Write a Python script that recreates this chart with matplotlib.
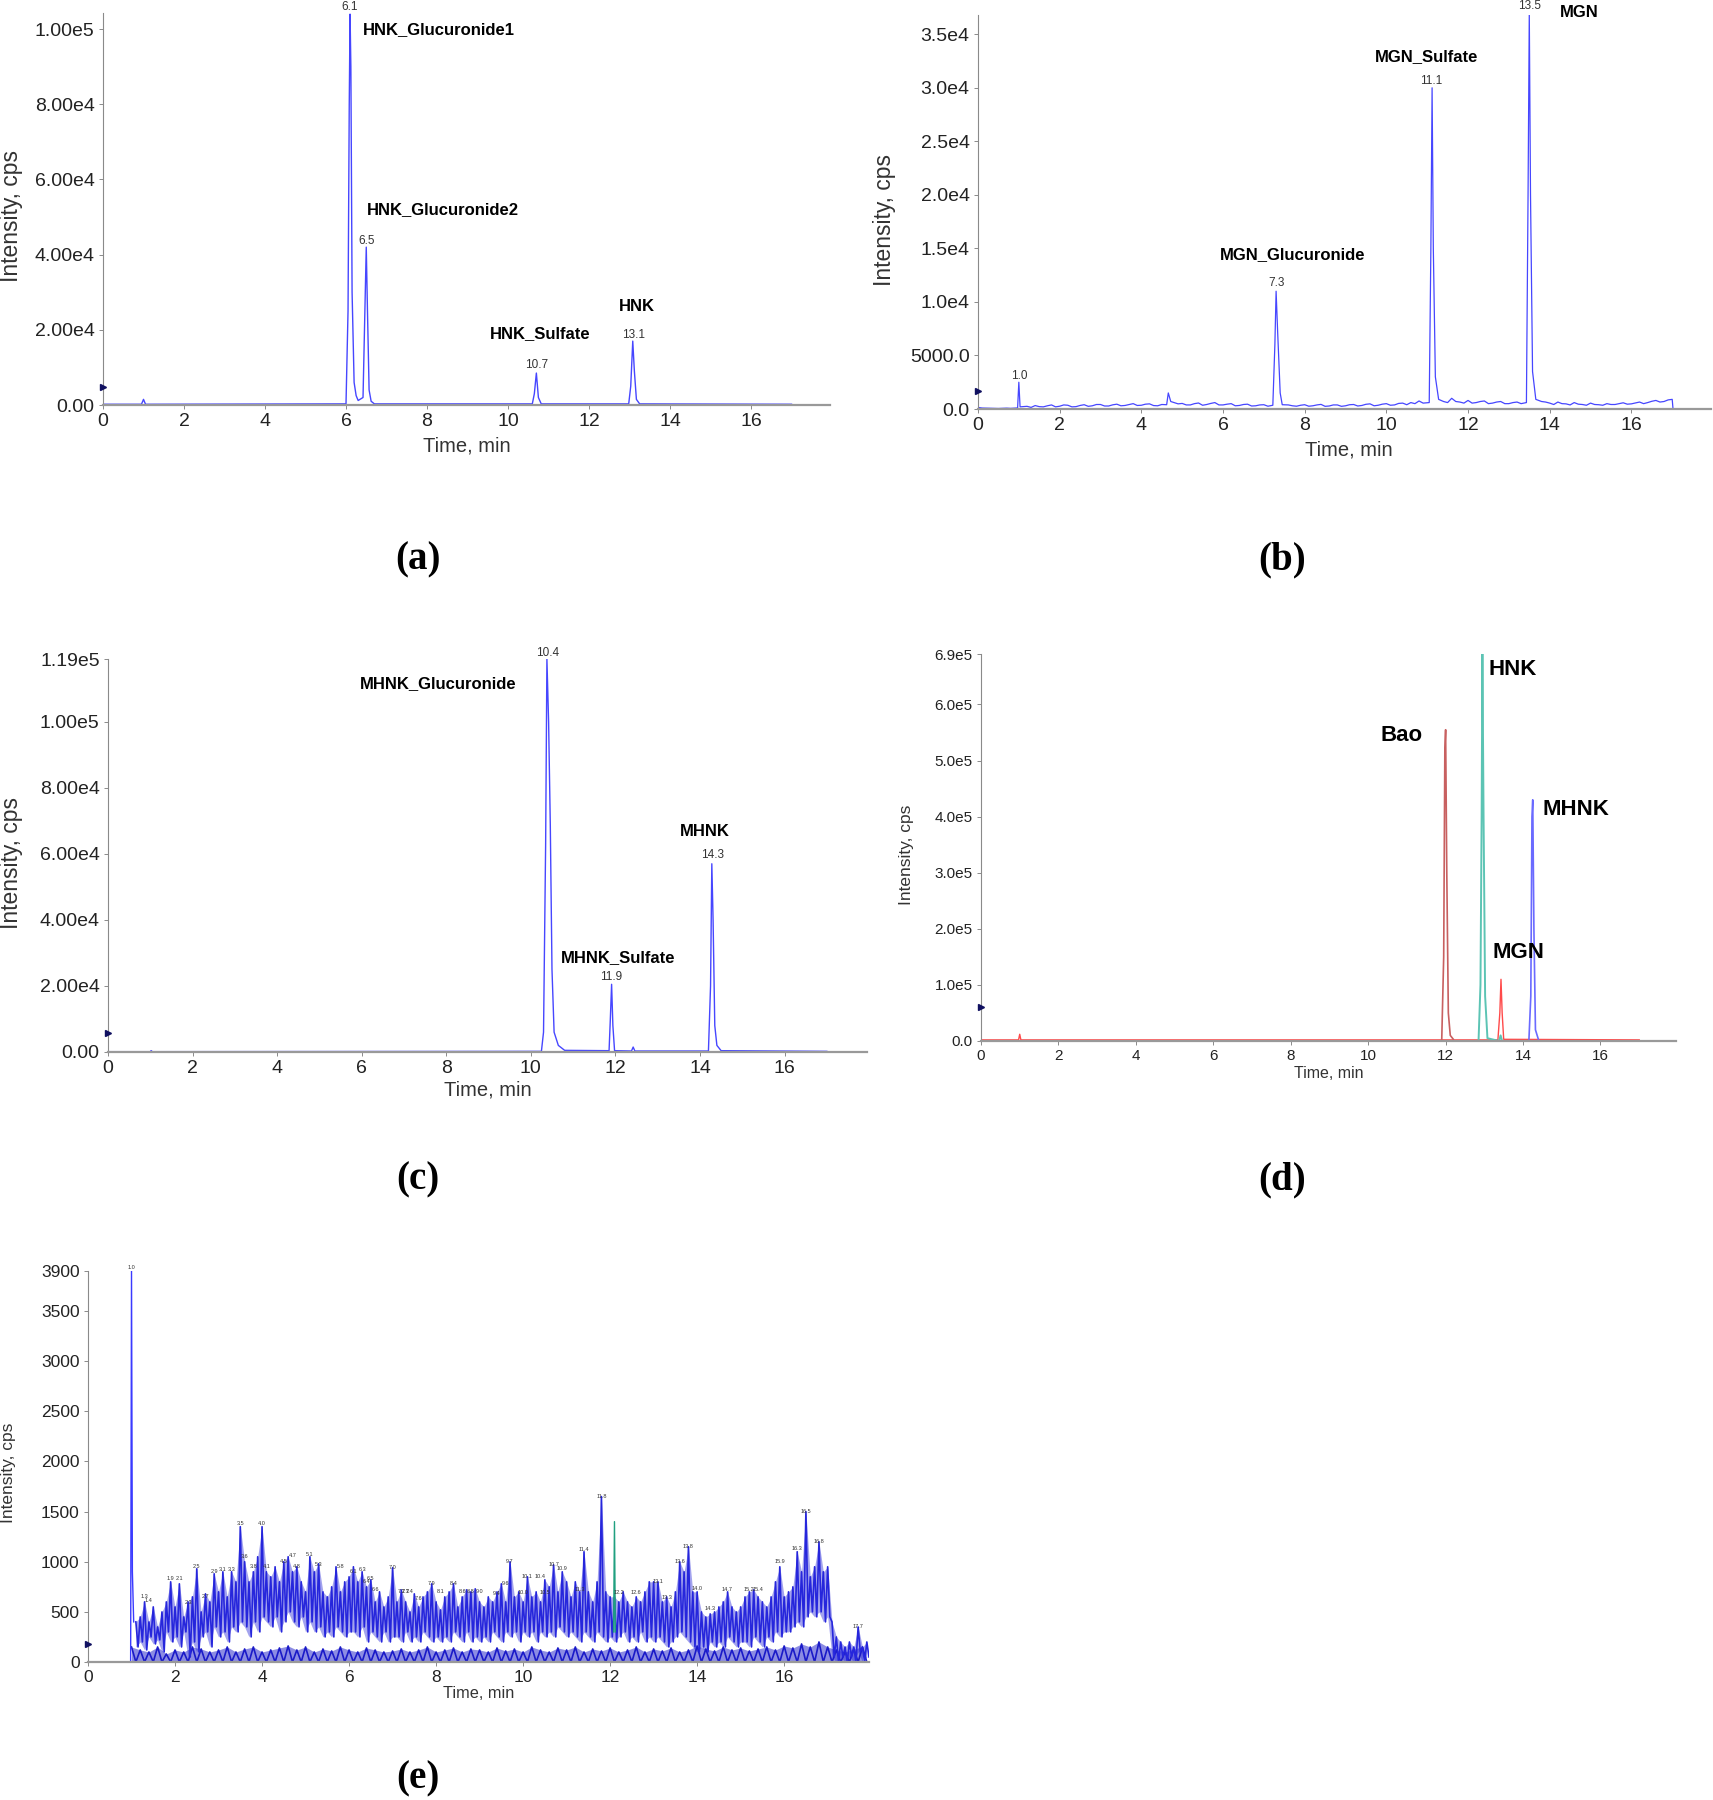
import numpy as np
import matplotlib.pyplot as plt
from matplotlib import font_manager

names = {f.name for f in font_manager.fontManager.ttflist}
NARROW = 'Liberation Sans Narrow' if 'Liberation Sans Narrow' in names else 'Liberation Sans'
SANS = 'Liberation Sans'

# ---------------- data ----------------
x_ticks = [0, 2, 4, 6, 8, 10, 12, 14, 16]

# (a) HNK metabolites
t_a = [0, 0.95, 1.0, 1.05, 6.0, 6.05, 6.08, 6.1, 6.12, 6.15, 6.2, 6.25, 6.3, 6.42, 6.46, 6.5,
       6.53, 6.57, 6.62, 6.7, 10.6, 10.65, 10.7, 10.75, 10.82, 12.98, 13.03, 13.08, 13.12,
       13.17, 13.25, 17.0]
y_a = [200, 200, 1500, 200, 300, 25000, 80000, 104000, 90000, 30000, 6000, 2500, 1200, 2000,
       22000, 42000, 25000, 4000, 1000, 300, 300, 3000, 8500, 2000, 300, 300, 5000, 17000,
       9000, 1500, 300, 200]
yt_a = [0, 20000, 40000, 60000, 80000, 100000]
ytl_a = ['0.00', '2.00e4', '4.00e4', '6.00e4', '8.00e4', '1.00e5']
rt_a = [6.1, 6.5, 10.7, 13.1]
rt_y_a = [106000, 43600, 10700, 18600]
names_a = ['HNK_Glucuronide1', 'HNK_Glucuronide2', 'HNK_Sulfate', 'HNK']
name_x_a = [6.41, 6.52, 9.56, 12.74]
name_y_a = [100000, 52000, 19000, 26200]

# (b) MGN metabolites: baseline noise every 0.1 min plus peaks
b_noise = [150, 90, 80, 60, 70, 50, 60, 80, 60, 70,
           100, 180, 250, 150, 320, 220, 200, 300, 380, 200,
           260, 380, 350, 200, 220, 330, 400, 250, 300, 420,
           420, 280, 280, 390, 450, 300, 330, 420, 500, 330,
           350, 450, 480, 320, 300, 420, 600, 900, 700, 480,
           520, 380, 380, 500, 560, 350, 420, 520, 600, 380,
           380, 450, 500, 300, 330, 420, 450, 280, 300, 380,
           400, 260, 350, 300, 380, 260, 380, 300, 260, 350,
           400, 260, 300, 380, 430, 250, 280, 380, 380, 250,
           300, 400, 420, 280, 330, 440, 480, 300, 350, 450,
           500, 350, 380, 520, 550, 400, 600, 500, 750, 550,
           650, 600, 650, 500, 700, 600, 1000, 700, 650, 550,
           800, 550, 600, 700, 750, 500, 550, 650, 700, 500,
           500, 600, 650, 500, 600, 700, 700, 600, 700, 650,
           550, 420, 650, 500, 480, 380, 600, 450, 420, 350,
           550, 420, 400, 350, 500, 420, 420, 500, 580, 450,
           480, 560, 650, 500, 600, 720, 800, 650, 700, 850,
           900]
b_peak_t = [0.97, 1.0, 1.03, 4.62, 4.66, 4.72, 7.22, 7.27, 7.3, 7.34, 7.4, 7.45,
            11.05, 11.09, 11.12, 11.15, 11.2, 11.28, 13.43, 13.47, 13.5, 13.53, 13.58, 13.66,
            17.02, 17.9]
b_peak_y = [100, 2500, 200, 400, 1500, 700, 350, 6000, 11000, 7000, 1500, 400,
            600, 15000, 30000, 15000, 3000, 900, 600, 20000, 37000, 20000, 3500, 900,
            0, 0]
yt_b = [0, 5000, 10000, 15000, 20000, 25000, 30000, 35000]
ytl_b = ['0.0', '5000.0', '1.0e4', '1.5e4', '2.0e4', '2.5e4', '3.0e4', '3.5e4']
rt_b = [1.0, 7.3, 11.1, 13.5]
rt_y_b = [3100, 11800, 30600, 37600]
names_b = ['MGN_Glucuronide', 'MGN_Sulfate', 'MGN']
name_x_b = [5.92, 9.72, 14.25]
name_y_b = [14400, 32900, 37000]

# (c) MHNK metabolites
t_c = [0, 1.0, 1.02, 1.05, 10.25, 10.3, 10.35, 10.38, 10.42, 10.46, 10.5, 10.55, 10.65, 10.8,
       11.85, 11.88, 11.91, 11.94, 11.98, 12.38, 12.42, 12.46, 14.2, 14.25, 14.28, 14.31,
       14.35, 14.4, 14.5, 17.0]
y_c = [100, 100, 400, 100, 200, 6000, 63000, 119000, 100000, 69000, 25000, 6000, 2000, 500,
       400, 10000, 20500, 8000, 400, 300, 1500, 300, 300, 20000, 57000, 40000, 8000, 2000,
       400, 200]
yt_c = [0, 20000, 40000, 60000, 80000, 100000, 119000]
ytl_c = ['0.00', '2.00e4', '4.00e4', '6.00e4', '8.00e4', '1.00e5', '1.19e5']
rt_c = [10.4, 11.9, 14.3]
rt_y_c = [120700, 22600, 59500]
names_c = ['MHNK_Glucuronide', 'MHNK_Sulfate', 'MHNK']
name_x_c = [5.96, 10.72, 13.52]
name_y_c = [111700, 28500, 66800]

# (d) parent compounds, one trace per channel
t_mgn = [0, 0.97, 1.0, 1.03, 13.35, 13.4, 13.43, 13.46, 13.5, 17.0]
y_mgn = [2000, 2000, 12000, 2000, 2000, 50000, 110000, 50000, 3000, 2000]
t_bao = [11.9, 11.95, 11.98, 12.0, 12.03, 12.07, 12.12, 12.2]
y_bao = [3000, 150000, 520000, 555000, 300000, 50000, 10000, 3000]
t_hnk = [12.85, 12.9, 12.93, 12.95, 12.98, 13.02, 13.08, 13.38, 13.42, 13.46]
y_hnk = [0, 100000, 400000, 690000, 400000, 80000, 5000, 0, 10000, 0]
t_mhnk = [14.15, 14.2, 14.23, 14.25, 14.28, 14.32, 14.4]
y_mhnk = [0, 80000, 400000, 430000, 200000, 20000, 2000]
yt_d = [0, 100000, 200000, 300000, 400000, 500000, 600000, 690000]
ytl_d = ['0.0', '1.0e5', '2.0e5', '3.0e5', '4.0e5', '5.0e5', '6.0e5', '6.9e5']
names_d = ['Bao', 'HNK', 'MHNK', 'MGN']
name_x_d = [10.33, 13.12, 14.51, 13.2]
name_y_d = [545000, 663000, 412000, 158000]

# (e) blank: dense noise, upper / lower envelope every 0.1 min from 1.1 min
e_upper = [400, 450, 600, 400, 550, 350, 500, 600, 800, 550,
           780, 450, 600, 650, 930, 500, 680, 600, 880, 700,
           900, 650, 900, 800, 1350, 1000, 800, 900, 1050, 1350,
           900, 850, 950, 800, 1000, 1050, 900, 950, 800, 700,
           1050, 900, 980, 700, 650, 750, 950, 700, 800, 850,
           950, 800, 900, 750, 820, 600, 700, 550, 650, 940,
           600, 720, 600, 500, 680, 550, 650, 700, 780, 600,
           520, 650, 700, 780, 550, 650, 720, 700, 730, 600,
           550, 650, 600, 700, 780, 600, 1000, 650, 700, 600,
           850, 650, 700, 600, 820, 750, 970, 700, 900, 800,
           650, 800, 700, 1100, 700, 600, 800, 1650, 700, 650,
           650, 600, 700, 600, 550, 650, 600, 700, 800, 800,
           800, 600, 650, 550, 700, 1000, 900, 1150, 700, 700,
           500, 450, 480, 500, 550, 600, 700, 550, 500, 550,
           650, 700, 720, 650, 600, 550, 650, 800, 950, 650,
           700, 750, 1100, 900, 1500, 850, 950, 1200, 900, 950,
           400, 250, 200, 150, 200, 150, 350, 150, 200]
e_lower = [150, 200, 120, 250, 180, 220, 100, 300, 200, 250,
           150, 300, 50, 200, 100, 250, 300, 150, 350, 250,
           300, 200, 350, 300, 400, 350, 250, 400, 300, 450,
           400, 350, 450, 300, 400, 500, 400, 350, 450, 300,
           400, 300, 350, 250, 300, 250, 350, 300, 250, 300,
           300, 250, 350, 200, 300, 250, 200, 300, 200, 250,
           250, 200, 300, 200, 250, 200, 300, 250, 200, 250,
           200, 250, 200, 300, 250, 200, 300, 200, 250, 200,
           250, 200, 300, 250, 200, 300, 250, 300, 200, 300,
           250, 300, 200, 300, 250, 300, 250, 350, 300, 250,
           300, 250, 200, 300, 250, 200, 300, 250, 200, 250,
           200, 250, 300, 200, 250, 200, 300, 200, 250, 200,
           250, 200, 150, 200, 250, 300, 250, 200, 150, 100,
           150, 100, 200, 150, 200, 150, 250, 200, 150, 200,
           200, 150, 250, 200, 150, 250, 200, 300, 250, 300,
           300, 350, 400, 350, 450, 500, 450, 500, 400, 450,
           50, 0, 50, 0, 50, 0, 100, 0, 50]
# bottom channels, every 0.2 min from 1.0 min
e_low_top = [150, 120, 100, 150, 80, 120, 100, 150, 130, 100,
             120, 150, 100, 130, 150, 100, 120, 140, 160, 120,
             150, 100, 130, 110, 150, 120, 100, 140, 120, 100,
             110, 130, 100, 120, 150, 100, 120, 140, 100, 130,
             120, 100, 140, 110, 130, 100, 150, 120, 100, 140,
             120, 150, 100, 130, 110, 140, 100, 120, 150, 100,
             130, 110, 140, 100, 120, 160, 130, 110, 150, 120,
             140, 110, 130, 150, 120, 160, 140, 180, 150, 200,
             150, 120, 100, 130, 150]
t_e_spike = [0, 0.98, 1.0, 1.02, 1.05]
y_e_spike = [0, 0, 3900, 900, 400]
t_e_green = [12.08, 12.1, 12.12]
y_e_green = [300, 1400, 300]
yt_e = [0, 500, 1000, 1500, 2000, 2500, 3000, 3500, 3900]
e_lab_t = [1.0, 1.3, 1.4, 1.9, 2.1, 2.3, 2.5, 2.7, 2.9, 3.1, 3.3, 3.5, 3.6, 3.8, 4.0, 4.1,
           4.5, 4.7, 4.8, 5.1, 5.3, 5.8, 6.1, 6.3, 6.4, 6.5, 6.6, 7.0, 7.2, 7.3, 7.4, 7.6,
           7.9, 8.1, 8.4, 8.6, 8.8, 9.0, 9.4, 9.6, 9.7, 10.0, 10.1, 10.4, 10.5, 10.7, 10.9,
           11.3, 11.4, 11.8, 12.2, 12.6, 13.1, 13.3, 13.6, 13.8, 14.0, 14.3, 14.7, 15.2,
           15.4, 15.9, 16.3, 16.5, 16.8, 17.7]
e_lab_y = [3930, 650, 610, 830, 830, 590, 950, 650, 900, 920, 920, 1380, 1050, 950, 1380, 950,
           1000, 1060, 950, 1070, 970, 950, 900, 920, 800, 830, 720, 940, 700, 700, 700, 630,
           780, 700, 780, 700, 700, 700, 680, 780, 1000, 690, 850, 850, 690, 970, 930,
           720, 1120, 1650, 690, 690, 800, 640, 1000, 1150, 730, 530, 720, 720,
           720, 1000, 1130, 1500, 1200, 350]

# small software markers on the y axes
axis_mark = [4900, 1700, 5900, 61000, 183]

# ---------------- figure ----------------
W, H = 1713, 1800
fig = plt.figure(figsize=(W / 100, H / 100), dpi=100)


def box(l, t, r, b):
    return [l / W, 1 - b / H, (r - l) / W, (b - t) / H]


def fpos(x, y):
    return x / W, 1 - y / H


TICK = '#222222'
BLUE = '#4646ff'


def style(ax, ymax, yt, ytl, fs):
    ax.set_xlim(0, 17.95)
    ax.set_ylim(0, ymax)
    ax.set_xticks(x_ticks)
    ax.set_xticklabels([str(v) for v in x_ticks], fontsize=fs, family=NARROW, color=TICK)
    ax.set_yticks(yt)
    ax.set_yticklabels(ytl, fontsize=fs, family=NARROW, color=TICK)
    for s in ['top', 'right']:
        ax.spines[s].set_visible(False)
    ax.spines['left'].set_color('#8a8a8a')
    ax.spines['left'].set_linewidth(0.8)
    ax.spines['bottom'].set_color('#999999')
    ax.spines['bottom'].set_linewidth(1.6)
    ax.tick_params(length=3, width=0.7, color='#8a8a8a', pad=3)


def peak_labels(ax, xs, ys, fs=8.5):
    for x, y in zip(xs, ys):
        ax.text(x, y, f'{x:.1f}', ha='center', va='center', fontsize=fs, family=NARROW,
                color='#333333', clip_on=False)


def names_text(ax, xs, ys, labels, fs):
    for x, y, s in zip(xs, ys, labels):
        ax.text(x, y, s, ha='left', va='center', fontsize=fs, family=NARROW,
                fontweight='bold', color='black', clip_on=False)


def mark(ax, y):
    ax.plot([0], [y], marker='>', ms=4, color='#101060', clip_on=False, zorder=5)


# (a)
ax = fig.add_axes(box(103, 13, 830, 405))
ax.plot(t_a, y_a, color=BLUE, lw=1.0)
style(ax, 104300, yt_a, ytl_a, 14)
peak_labels(ax, rt_a, rt_y_a)
names_text(ax, name_x_a, name_y_a, names_a, 12)
mark(ax, axis_mark[0])

# (b) baseline samples that fall inside a peak window are left out
t_b_noise = 0.1 * np.arange(len(b_noise))
pk = np.array(b_peak_t[:-2])
keep = np.array([np.min(np.abs(pk - t)) > 0.09 for t in t_b_noise])
tb = np.concatenate([t_b_noise[keep], b_peak_t])
yb = np.concatenate([np.array(b_noise)[keep], b_peak_y])
order = np.argsort(tb, kind='stable')
ax = fig.add_axes(box(978, 15, 1711, 409))
ax.plot(tb[order], yb[order], color=BLUE, lw=0.9)
style(ax, 36800, yt_b, ytl_b, 14)
peak_labels(ax, rt_b, rt_y_b)
names_text(ax, name_x_b, name_y_b, names_b, 12)
mark(ax, axis_mark[1])

# (c)
ax = fig.add_axes(box(108, 659, 867, 1052))
ax.plot(t_c, y_c, color=BLUE, lw=1.0)
style(ax, 119000, yt_c, ytl_c, 14)
peak_labels(ax, rt_c, rt_y_c)
names_text(ax, name_x_c, name_y_c, names_c, 12)
mark(ax, axis_mark[2])

# (d)
ax = fig.add_axes(box(981, 654, 1676, 1041))
ax.plot(t_mgn, y_mgn, color='#ff4a4a', lw=1.0)
ax.plot(t_bao, y_bao, color='#c86060', lw=1.2)
ax.plot(t_hnk, y_hnk, color='#5cc4b4', lw=1.4)
ax.plot(t_mhnk, y_mhnk, color='#6a6aff', lw=1.2)
style(ax, 690000, yt_d, ytl_d, 11)
names_text(ax, name_x_d, name_y_d, names_d, 16)
mark(ax, axis_mark[3])

# (e)
ax = fig.add_axes(box(88, 1271, 869, 1662))
t_mid = 1.1 + 0.1 * np.arange(len(e_upper))
xm = np.empty(2 * len(t_mid))
ym = np.empty(2 * len(t_mid))
xm[0::2], xm[1::2] = t_mid, t_mid + 0.05
ym[0::2], ym[1::2] = e_upper, e_lower
t_low = 1.0 + 0.2 * np.arange(len(e_low_top))
xl = np.empty(2 * len(t_low))
yl = np.zeros(2 * len(t_low))
xl[0::2], xl[1::2] = t_low, t_low + 0.1
yl[0::2] = e_low_top
ax.fill_between(t_low, 0, e_low_top, color='#1a1ac8', alpha=0.5, lw=0)
ax.fill_between(t_mid, e_lower, e_upper, color='#2525d8', alpha=0.42, lw=0)
ax.plot(xl, yl, color='#1a1ac8', lw=1.2)
ax.plot(xm, ym, color='#2626dc', lw=1.2)
ax.plot(t_e_spike, y_e_spike, color='#3a3aff', lw=1.0)
ax.plot(t_e_green, y_e_green, color='#20a080', lw=1.0)
style(ax, 3900, yt_e, [str(v) for v in yt_e], 12.5)
peak_labels(ax, e_lab_t, e_lab_y, fs=4)
mark(ax, axis_mark[4])

# axis titles
ylab = [(11.5, 216, 16.5), (884, 220, 16.5), (11.5, 863, 16.5), (906, 855, 12.5),
        (9, 1473, 12.5)]
for x, y, fs in ylab:
    fig.text(*fpos(x, y), 'Intensity, cps', rotation=90, ha='center', va='center',
             fontsize=fs, family=SANS, color='#333333')
xlab = [(467, 446, 14.5), (1349, 450, 14.5), (488, 1090, 14.5), (1329, 1074, 11.5),
        (479, 1694, 11.7)]
for x, y, fs in xlab:
    fig.text(*fpos(x, y), 'Time, min', ha='center', va='center', fontsize=fs,
             family=NARROW, color='#333333')

# panel letters
panels = ['(a)', '(b)', '(c)', '(d)', '(e)']
ppos = [(418, 560), (1282, 560), (418, 1180), (1282, 1180), (418, 1779)]
for s, (x, y) in zip(panels, ppos):
    fig.text(*fpos(x, y), s, ha='center', va='center', fontsize=28, family='Liberation Serif',
             fontweight='bold')

fig.savefig('out.png', dpi=100)
